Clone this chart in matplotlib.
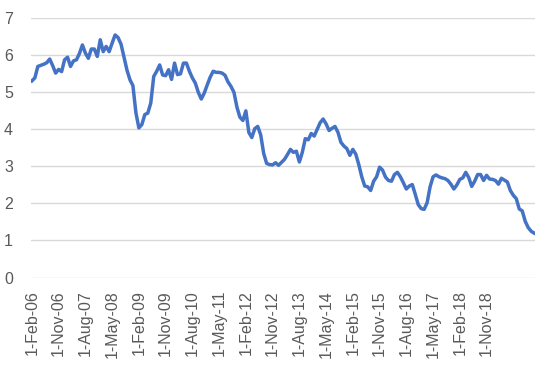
import matplotlib
matplotlib.use("Agg")
import matplotlib.pyplot as plt
import numpy as np

# monthly values, starting Feb 2006
rates = [
    5.31, 5.39, 5.70, 5.73, 5.76, 5.80, 5.90, 5.72, 5.52, 5.62,
    5.56, 5.88, 5.95, 5.70, 5.85, 5.88, 6.05, 6.28, 6.06, 5.92,
    6.17, 6.17, 5.97, 6.42, 6.10, 6.24, 6.10, 6.33, 6.55, 6.48,
    6.30, 5.95, 5.60, 5.34, 5.18, 4.45, 4.04, 4.13, 4.40, 4.44,
    4.71, 5.43, 5.57, 5.74, 5.47, 5.45, 5.61, 5.35, 5.79, 5.48,
    5.50, 5.79, 5.79, 5.57, 5.39, 5.25, 5.00, 4.82, 4.98, 5.20,
    5.41, 5.57, 5.54, 5.54, 5.52, 5.46, 5.28, 5.16, 5.00, 4.60,
    4.33, 4.24, 4.50, 3.92, 3.78, 4.02, 4.08, 3.85, 3.35, 3.08,
    3.05, 3.04, 3.10, 3.03, 3.11, 3.19, 3.32, 3.46, 3.38, 3.41,
    3.12, 3.38, 3.75, 3.72, 3.89, 3.82, 4.00, 4.18, 4.28, 4.15,
    3.97, 4.03, 4.08, 3.92, 3.65, 3.55, 3.48, 3.30, 3.46, 3.33,
    3.05, 2.72, 2.47, 2.45, 2.35, 2.60, 2.72, 2.98, 2.90, 2.71,
    2.62, 2.60, 2.78, 2.84, 2.72, 2.56, 2.39, 2.47, 2.51, 2.25,
    1.97, 1.86, 1.84, 2.02, 2.45, 2.72, 2.77, 2.72, 2.69, 2.67,
    2.62, 2.52, 2.39, 2.50, 2.65, 2.69, 2.84, 2.70, 2.46, 2.60,
    2.78, 2.78, 2.62, 2.76, 2.66, 2.65, 2.62, 2.52, 2.68, 2.63,
    2.58, 2.35, 2.22, 2.13, 1.85, 1.80, 1.52, 1.35, 1.25, 1.20,
]

tick_labels = [
    '1-Feb-06', '1-Nov-06', '1-Aug-07', '1-May-08', '1-Feb-09', '1-Nov-09',
    '1-Aug-10', '1-May-11', '1-Feb-12', '1-Nov-12', '1-Aug-13', '1-May-14',
    '1-Feb-15', '1-Nov-15', '1-Aug-16', '1-May-17', '1-Feb-18', '1-Nov-18',
]
tick_step = 9  # months between labels

plt.rcParams['font.family'] = ['Liberation Sans', 'DejaVu Sans']

fig = plt.figure(figsize=(5.48, 3.69), dpi=100)
ax = fig.add_axes([31 / 548, 1 - 277.5 / 369, (535 - 31) / 548, (277.5 - 18.3) / 369])

x = np.arange(len(rates))
ax.plot(x, rates, color='#4472C4', linewidth=2.5, solid_joinstyle='round')

ax.set_ylim(0, 7)
ax.set_yticks(range(0, 8))
ax.set_xlim(-0.3, len(rates) - 1 + 0.3)
ax.set_xticks(np.arange(len(tick_labels)) * tick_step)
ax.set_xticklabels(tick_labels, rotation=90)

ax.grid(axis='y', color='#d9d9d9', linewidth=1)
ax.set_axisbelow(True)
for s in ax.spines.values():
    s.set_visible(False)
ax.tick_params(axis='both', length=0, colors='#595959', labelsize=11.5)
ax.tick_params(axis='y', pad=13)
ax.tick_params(axis='x', pad=9)

fig.savefig('out.png', dpi=100)
